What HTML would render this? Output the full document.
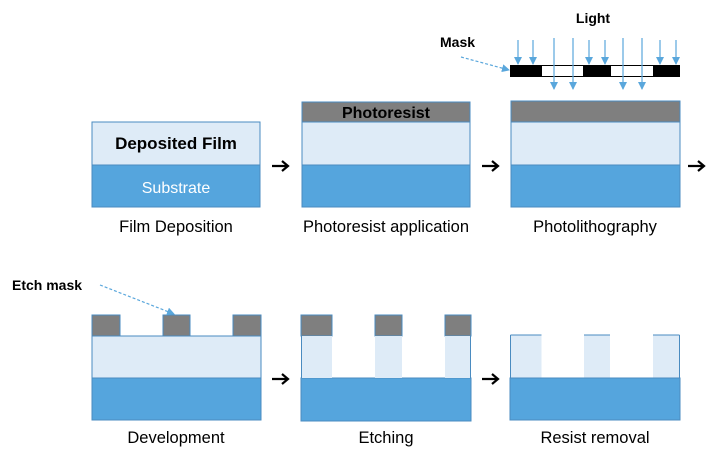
<!DOCTYPE html>
<html><head><meta charset="utf-8"><style>
html,body{margin:0;padding:0;background:#fff;}
svg{display:block;}
text{font-family:"Liberation Sans",sans-serif;}
</style></head><body>
<svg width="720" height="463" viewBox="0 0 720 463" xmlns="http://www.w3.org/2000/svg">
<defs>
<marker id="ad" markerWidth="8" markerHeight="8" refX="7" refY="4" orient="auto" markerUnits="userSpaceOnUse">
<path d="M0,0 L8,4 L0,8 z" fill="#5aa7dc"/>
</marker>
</defs>
<g stroke="#4a8bc0" stroke-width="1">
<rect x="92" y="122" width="168" height="43" fill="#deebf7"/>
<rect x="92" y="165" width="168" height="42" fill="#55a5dd"/>
<rect x="302" y="102" width="168" height="20" fill="#7f7f7f"/>
<rect x="302" y="122" width="168" height="43" fill="#deebf7"/>
<rect x="302" y="165" width="168" height="42" fill="#55a5dd"/>
<rect x="511" y="101" width="169" height="21" fill="#7f7f7f"/>
<rect x="511" y="122" width="169" height="43" fill="#deebf7"/>
<rect x="511" y="165" width="169" height="42" fill="#55a5dd"/>
<rect x="92" y="336" width="169" height="42" fill="#deebf7"/>
<rect x="92" y="378" width="169" height="42" fill="#55a5dd"/>
<rect x="92" y="315" width="28" height="21" fill="#7f7f7f"/>
<rect x="163" y="315" width="27" height="21" fill="#7f7f7f"/>
<rect x="233" y="315" width="28" height="21" fill="#7f7f7f"/>
<rect x="301" y="378" width="170" height="43" fill="#55a5dd"/>
<rect x="301" y="315" width="31" height="21" fill="#7f7f7f"/>
<rect x="375" y="315" width="27" height="21" fill="#7f7f7f"/>
<rect x="445" y="315" width="26" height="21" fill="#7f7f7f"/>
</g>
<g fill="#deebf7">
<rect x="301.5" y="336" width="30.5" height="42"/>
<rect x="375" y="336" width="27" height="42"/>
<rect x="445" y="336" width="25.5" height="42"/>
<rect x="510.5" y="335" width="31" height="43"/>
<rect x="584" y="335" width="26" height="43"/>
<rect x="653" y="335" width="26.5" height="43"/>
</g>
<g stroke="#4a8bc0" fill="none">
<path d="M301.5,336V378M470.5,336V378"/>
<path d="M510.5,335H541.5M584,335H610M653,335H679.5M510.5,335V378M679.5,335V378"/>
</g>
<rect x="510" y="378" width="170" height="42" fill="#55a5dd" stroke="#4a8bc0"/>
<rect x="510.5" y="65.5" width="169" height="11" fill="#fff" stroke="#000"/>
<rect x="510" y="65" width="32" height="12" fill="#000"/>
<rect x="583" y="65" width="28" height="12" fill="#000"/>
<rect x="653" y="65" width="27" height="12" fill="#000"/>
<g stroke="#5aa7dc" stroke-width="1.2" marker-end="url(#ad)">
<line x1="518" y1="40" x2="518" y2="64"/>
<line x1="533" y1="40" x2="533" y2="64"/>
<line x1="589" y1="40" x2="589" y2="64"/>
<line x1="605" y1="40" x2="605" y2="64"/>
<line x1="660" y1="40" x2="660" y2="64"/>
<line x1="676" y1="40" x2="676" y2="64"/>
<line x1="554" y1="38" x2="554" y2="89"/>
<line x1="573" y1="38" x2="573" y2="89"/>
<line x1="623" y1="38" x2="623" y2="89"/>
<line x1="642" y1="38" x2="642" y2="89"/>
</g>
<g stroke="#5aa7dc" stroke-width="1.2" stroke-dasharray="3,2" marker-end="url(#ad)">
<line x1="461" y1="57" x2="509" y2="70"/>
<line x1="100" y1="285" x2="174" y2="314"/>
</g>
<text x="593" y="23" font-size="14" font-weight="bold" text-anchor="middle">Light</text>
<text x="440" y="47" font-size="14" font-weight="bold">Mask</text>
<text x="12" y="290" font-size="14" font-weight="bold">Etch mask</text>
<text x="176" y="149" font-size="17" font-weight="bold" text-anchor="middle">Deposited Film</text>
<text x="176" y="193" font-size="16" fill="#fff" text-anchor="middle">Substrate</text>
<text x="386" y="118" font-size="16" font-weight="bold" text-anchor="middle">Photoresist</text>
<g font-size="16.5" text-anchor="middle" fill="#000">
<text x="176" y="232">Film Deposition</text>
<text x="386" y="232">Photoresist application</text>
<text x="595" y="232">Photolithography</text>
<text x="176" y="443">Development</text>
<text x="386" y="443">Etching</text>
<text x="595" y="443">Resist removal</text>
</g>
<g stroke="#000" stroke-width="2.2" fill="none">
<path d="M272,166H287M282,161L288,166L282,171"/>
<path d="M482,166H497M492,161L498,166L492,171"/>
<path d="M688,166H703M698,161L704,166L698,171"/>
<path d="M272,379H287M282,374L288,379L282,384"/>
<path d="M482,379H497M492,374L498,379L492,384"/>
</g>
</svg>
</body></html>
